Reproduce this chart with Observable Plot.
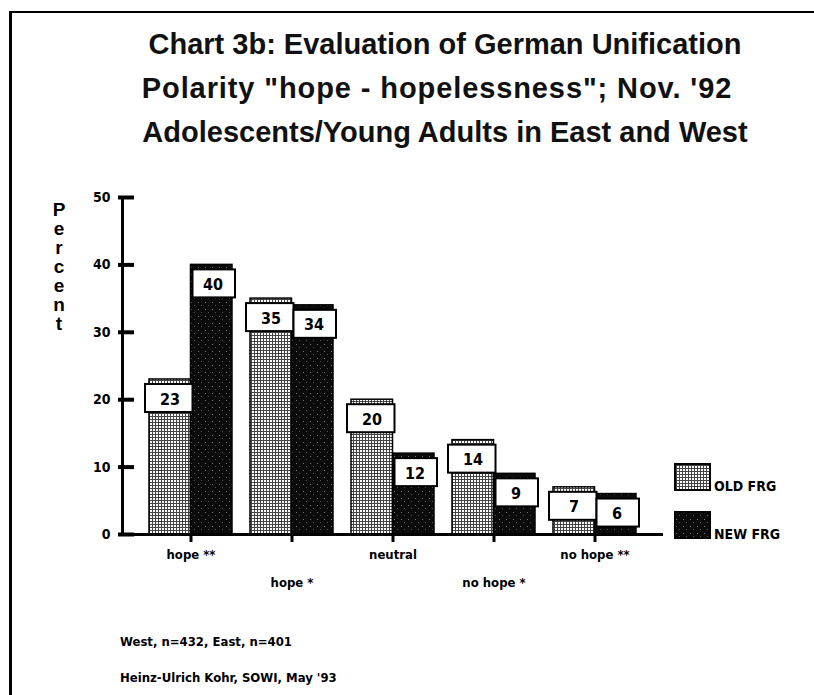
<!DOCTYPE html>
<html>
<head>
<meta charset="utf-8">
<script src="https://cdn.jsdelivr.net/npm/d3@7"></script>
<script src="https://cdn.jsdelivr.net/npm/@observablehq/plot@0.6"></script>
<style>
  html, body { margin: 0; padding: 0; background: #fff; overflow: hidden; }
  #wrap { position: relative; width: 814px; height: 695px; overflow: hidden; background: #fff; }
  .frame { position: absolute; left: 9px; top: 11px; width: 805px; height: 684px; border-left: 3px solid #000; border-top: 2px solid #000; box-sizing: border-box; }
  .title { position: absolute; left: 0; width: 890px; text-align: center; font-family: "Liberation Sans", Arial, sans-serif; font-weight: bold; font-size: 29px; color: #111; white-space: nowrap; line-height: 1; }
  .narrow { font-family: "DejaVu Sans Condensed", "DejaVu Sans", sans-serif; font-stretch: condensed; font-weight: bold; color: #000; }
  .percent { position: absolute; left: 48px; top: 200px; width: 22px; text-align: center; font-family: "Liberation Sans", Arial, sans-serif; font-weight: bold; font-size: 19px; line-height: 19px; color: #000; }
  .foot { position: absolute; left: 120px; font-size: 13px; white-space: nowrap; }
  .leg { position: absolute; left: 674px; }
  .legtxt { position: absolute; left: 714px; font-size: 14px; white-space: nowrap; }
  #chart { position: absolute; left: 0; top: 0; }
  #defs { position: absolute; left: 0; top: 0; width: 0; height: 0; overflow: hidden; }
</style>
</head>
<body>
<div id="wrap">
  <svg id="defs" width="0" height="0">
    <defs>
      <pattern id="patOld" width="3" height="3" patternUnits="userSpaceOnUse">
        <rect width="3" height="3" fill="#fff"/>
        <rect x="0" y="2" width="3" height="1" fill="#444"/>
        <rect x="2" y="0" width="1" height="3" fill="#444"/>
      </pattern>
      <pattern id="patNew" width="7" height="7" patternUnits="userSpaceOnUse">
        <rect width="7" height="7" fill="#0b0b0b"/>
        <rect x="2" y="1" width="1" height="1" fill="#777"/>
        <rect x="5" y="4" width="1" height="1" fill="#555"/>
      </pattern>
    </defs>
  </svg>
  <div class="frame"></div>
  <div class="title" id="t1" style="top:30px;"></div>
  <div class="title" id="t2" style="top:74px; letter-spacing: 0.9px; left:-8px;"></div>
  <div class="title" id="t3" style="top:118px;"></div>
  <div class="percent" id="ylab"></div>
  <div id="chart"></div>
  <div id="legend"></div>
  <div class="foot narrow" id="f1" style="top:634px;"></div>
  <div class="foot narrow" id="f2" style="top:670px;"></div>
</div>
<script>
// ---- data ----
const titleLines = [
  "Chart 3b: Evaluation of German Unification",
  "Polarity \"hope - hopelessness\"; Nov. '92",
  "Adolescents/Young Adults in East and West"
];
const yLabel = "Percent";
const categories = ["hope **", "hope *", "neutral", "no hope *", "no hope **"];
const seriesNames = ["OLD FRG", "NEW FRG"];
const oldFRG = [23, 35, 20, 14, 7];
const newFRG = [40, 34, 12, 9, 6];
const yTicks = [0, 10, 20, 30, 40, 50];
const footnotes = ["West, n=432, East, n=401", "Heinz-Ulrich Kohr, SOWI, May '93"];

// ---- text ----
document.getElementById("t1").textContent = titleLines[0];
document.getElementById("t2").textContent = titleLines[1];
document.getElementById("t3").textContent = titleLines[2];
document.getElementById("ylab").innerHTML = yLabel.split("").map(c => `<div>${c}</div>`).join("");
document.getElementById("f1").textContent = footnotes[0];
document.getElementById("f2").textContent = footnotes[1];

const oldData = categories.map((c, i) => ({cat: c, v: oldFRG[i]}));
const newData = categories.map((c, i) => ({cat: c, v: newFRG[i]}));
const row1 = categories.filter((c, i) => i % 2 === 0);
const row2 = categories.filter((c, i) => i % 2 === 1);

const font = "DejaVu Sans Condensed, DejaVu Sans, sans-serif";
const half = 41.5;

const plot = Plot.plot({
  width: 814,
  height: 695,
  marginLeft: 122,
  marginRight: 151,
  marginTop: 197,
  marginBottom: 161,
  style: {background: "transparent", fontFamily: font, fontWeight: "bold", color: "#000"},
  x: {domain: categories, paddingInner: 0.182, paddingOuter: 0.256, axis: null, label: null},
  y: {domain: [0, 50], axis: null, label: null},
  marks: [
    // bars
    Plot.barY(oldData, {x: "cat", y: "v", fill: "url(#patOld)", stroke: "#000", strokeWidth: 1.5, insetRight: half}),
    Plot.barY(newData, {x: "cat", y: "v", fill: "url(#patNew)", stroke: "#000", strokeWidth: 1.5, insetLeft: half}),
    // value boxes
    Plot.barY(oldData, {x: "cat", y1: "v", y2: "v", fill: "#fff", stroke: "#000", strokeWidth: 2, insetTop: 5, insetBottom: -33, insetLeft: -4, insetRight: half - 2}),
    Plot.barY(newData, {x: "cat", y1: "v", y2: "v", fill: "#fff", stroke: "#000", strokeWidth: 2, insetTop: 5, insetBottom: -33, insetLeft: half + 2, insetRight: -3}),
    Plot.text(oldData, {x: "cat", y: "v", text: d => String(d.v), dx: -21, dy: 20, fontSize: 16, fontWeight: "bold", fill: "#000", fontFamily: font}),
    Plot.text(newData, {x: "cat", y: "v", text: d => String(d.v), dx: 22, dy: 20, fontSize: 16, fontWeight: "bold", fill: "#000", fontFamily: font}),
    // axes
    Plot.ruleY([0], {stroke: "#000", strokeWidth: 3}),
    Plot.frame({anchor: "left", stroke: "#000", strokeWidth: 3}),
    Plot.axisY({ticks: yTicks, tickSize: 16, dx: 12, tickFormat: () => "", strokeWidth: 4, stroke: "#000", label: null}),
    Plot.axisY({ticks: yTicks, tickSize: 0, tickPadding: 12, fontSize: 14, fontWeight: "bold", fill: "#000", fontFamily: font, label: null}),
    Plot.axisX({tickSize: 8, tickFormat: () => "", strokeWidth: 3, stroke: "#000", label: null}),
    Plot.text(row1, {x: d => d, frameAnchor: "bottom", dy: 24, text: d => d, fontSize: 13, fontWeight: "bold", fill: "#000", fontFamily: font}),
    Plot.text(row2, {x: d => d, frameAnchor: "bottom", dy: 52, text: d => d, fontSize: 13, fontWeight: "bold", fill: "#000", fontFamily: font})
  ]
});
document.getElementById("chart").appendChild(plot);

// ---- legend ----
const legend = document.getElementById("legend");
const swatchFill = ["url(#patOld)", "url(#patNew)"];
const legTop = [463, 511];
seriesNames.forEach((name, i) => {
  const sw = document.createElement("div");
  sw.className = "leg";
  sw.style.top = legTop[i] + "px";
  sw.innerHTML = `<svg width="37" height="28"><rect x="1" y="1" width="35" height="26" fill="${swatchFill[i]}" stroke="#000" stroke-width="2"/></svg>`;
  legend.appendChild(sw);
  const tx = document.createElement("div");
  tx.className = "legtxt narrow";
  tx.style.top = (legTop[i] + 15) + "px";
  tx.textContent = name;
  legend.appendChild(tx);
});
</script>
</body>
</html>
